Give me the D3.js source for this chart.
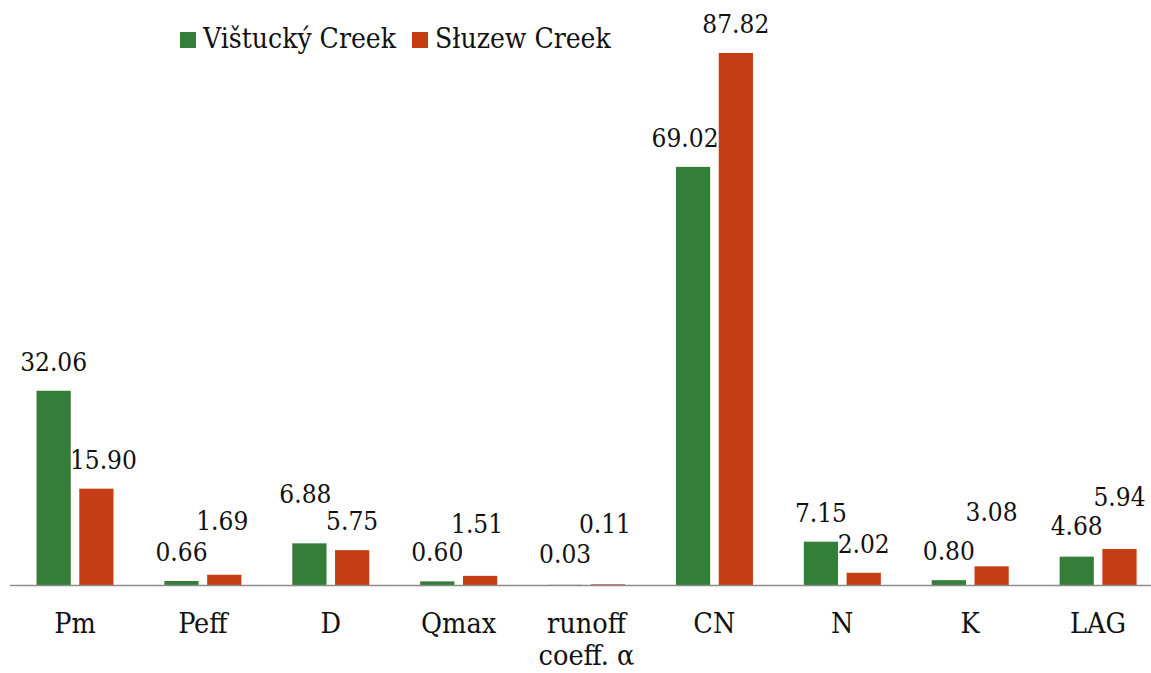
<!DOCTYPE html>
<html>
<head>
<meta charset="utf-8">
<script src="https://cdn.jsdelivr.net/npm/d3@7"></script>
<style>
  body { margin: 0; background: #fff; }
</style>
</head>
<body>
<div id="chart"></div>
<script>
// data
var categories = ["Pm", "Peff", "D", "Qmax", "runoff\ncoeff. α", "CN", "N", "K", "LAG"];
var seriesNames = ["Vištucký Creek", "Słuzew Creek"];
var vistucky = [32.06, 0.66, 6.88, 0.60, 0.03, 69.02, 7.15, 0.80, 4.68];
var sluzew = [15.90, 1.69, 5.75, 1.51, 0.11, 87.82, 2.02, 3.08, 5.94];
var colours = ["#357E39", "#C53D13"];

// manual label nudges (like dragged labels in the original), [dx, dy]
var nudgeVistucky = [[0,0],[0,0],[-4,-20],[0,0],[0,-2],[-8,0],[0,0],[0,0],[0,-2]];
var nudgeSluzew = [[7,0],[-2,-25],[0,0],[-3,-23],[-3,-31],[0,0],[0,0],[0,-25],[0,-23]];

var width = 1151, height = 673;
var baseY = 585;
// only serif face around is DejaVu Serif, use the condensed cut
var serif = "'DejaVu Serif Condensed', 'DejaVu Serif', serif";

var svg = d3.select("#chart").append("svg")
  .attr("width", width)
  .attr("height", height);

var rows = categories.map(function (c, i) {
  return { cat: c, values: [
    { s: 0, v: vistucky[i], nudge: nudgeVistucky[i] },
    { s: 1, v: sluzew[i], nudge: nudgeSluzew[i] }
  ] };
});

var x0 = d3.scaleBand()
  .domain(categories)
  .range([11, 1162])
  .padding(0);

var x1 = d3.scaleBand()
  .domain([0, 1])
  .range([25.5, 102.5])
  .paddingInner(0.2);

var y = d3.scaleLinear()
  .domain([0, 90])
  .range([baseY, baseY - 90 * 6.058]);

var groups = svg.selectAll("g.cat")
  .data(rows)
  .enter()
  .append("g")
  .attr("class", "cat")
  .attr("transform", function (d) { return "translate(" + x0(d.cat) + ",0)"; });

// bars
groups.selectAll("rect")
  .data(function (d) { return d.values; })
  .enter()
  .append("rect")
  .attr("x", function (d) { return x1(d.s); })
  .attr("width", x1.bandwidth())
  .attr("y", function (d) { return y(d.v); })
  .attr("height", function (d) { return y(0) - y(d.v); })
  .style("fill", function (d) { return colours[d.s]; });

// value labels
groups.selectAll("text.val")
  .data(function (d) { return d.values; })
  .enter()
  .append("text")
  .attr("class", "val")
  .attr("x", function (d) { return x1(d.s) + x1.bandwidth() / 2 + d.nudge[0]; })
  .attr("y", function (d) { return y(d.v) - 20 + d.nudge[1]; })
  .attr("text-anchor", "middle")
  .style("font-family", serif)
  .style("font-stretch", "condensed")
  .style("font-size", "26px")
  .style("fill", "#111")
  .text(function (d) { return d3.format(".2f")(d.v); });

// axis line
svg.append("line")
  .attr("x1", 10)
  .attr("x2", width)
  .attr("y1", y(0) + 0.5)
  .attr("y2", y(0) + 0.5)
  .style("stroke", "#8c8c8c")
  .style("stroke-width", 1.3);

// category labels
var catLabels = svg.selectAll("text.cat")
  .data(categories)
  .enter()
  .append("text")
  .attr("class", "cat")
  .attr("x", function (d) { return x0(d) + x0.bandwidth() / 2; })
  .attr("y", 633)
  .attr("text-anchor", "middle")
  .style("font-family", serif)
  .style("font-stretch", "condensed")
  .style("font-size", "28.5px")
  .style("fill", "#111");

catLabels.selectAll("tspan")
  .data(function (d) { return d.split("\n"); })
  .enter()
  .append("tspan")
  .attr("x", function () { return this.parentNode.getAttribute("x"); })
  .attr("dy", function (d, i) { return i === 0 ? 0 : 32; })
  .text(function (d) { return d; });

// legend
var legend = svg.append("g").attr("transform", "translate(180,0)");
var legendX = [0, 232];
seriesNames.forEach(function (name, i) {
  legend.append("rect")
    .attr("x", legendX[i])
    .attr("y", 32)
    .attr("width", 16)
    .attr("height", 16)
    .style("fill", colours[i]);
  legend.append("text")
    .attr("x", legendX[i] + 23)
    .attr("y", 48)
    .style("font-family", serif)
    .style("font-stretch", "condensed")
    .style("font-size", "28px")
    .style("fill", "#111")
    .text(name);
});
</script>
</body>
</html>
